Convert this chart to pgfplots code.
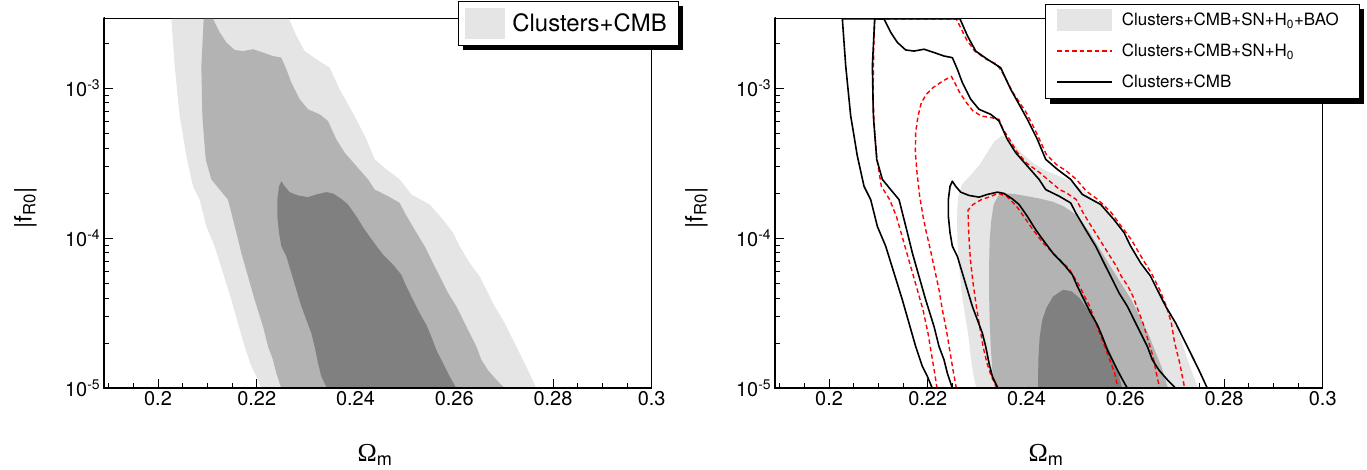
\documentclass[border=0pt]{standalone}
\usepackage{fontspec}
\setmainfont{TeX Gyre Heros}
\newfontfamily\greekfont{Liberation Serif}
\usepackage{pgfplots}
\usepackage{pgfplotstable}
\pgfplotsset{compat=1.18}

\definecolor{lev3}{RGB}{229,229,229}
\definecolor{lev2}{RGB}{179,179,179}
\definecolor{lev1}{RGB}{128,128,128}
\definecolor{snred}{RGB}{255,0,0}

% Clusters+CMB confidence contours (x = Omega_m, y = |f_R0|)
\pgfplotstableread{
x y
0.22093 1.00e-5
0.21992 1.20e-5
0.21890 1.40e-5
0.21755 1.90e-5
0.21620 2.72e-5
0.21485 3.89e-5
0.21317 5.86e-5
0.21148 8.85e-5
0.20979 1.20e-4
0.20844 1.81e-4
0.20709 2.22e-4
0.20574 3.53e-4
0.20439 6.53e-4
0.20338 1.41e-3
0.20270 2.90e-3
0.22653 2.90e-3
0.22802 2.24e-3
0.22971 1.77e-3
0.23207 1.56e-3
0.23477 1.37e-3
0.23680 9.84e-4
0.24017 6.21e-4
0.24220 4.56e-4
0.24389 3.36e-4
0.24625 2.88e-4
0.24895 2.47e-4
0.25131 1.96e-4
0.25503 1.68e-4
0.25773 1.33e-4
0.25975 1.09e-4
0.26110 8.85e-5
0.26313 6.84e-5
0.26515 5.57e-5
0.26650 4.54e-5
0.26819 3.52e-5
0.27022 2.72e-5
0.27191 2.10e-5
0.27326 1.71e-5
0.27494 1.32e-5
0.27663 1.00e-5
}\cmbthree

\pgfplotstableread{
x y
0.22498 1.00e-5
0.22397 1.26e-5
0.22329 1.55e-5
0.22228 1.90e-5
0.22127 2.58e-5
0.21958 3.89e-5
0.21823 5.57e-5
0.21688 7.98e-5
0.21587 1.09e-4
0.21485 1.48e-4
0.21418 1.81e-4
0.21249 2.11e-4
0.21080 2.47e-4
0.20966 3.36e-4
0.20898 6.53e-4
0.20878 1.41e-3
0.20925 2.90e-3
0.21114 2.90e-3
0.21249 2.36e-3
0.21384 2.02e-3
0.21553 1.80e-3
0.21722 1.77e-3
0.21924 1.82e-3
0.22127 1.73e-3
0.22329 1.64e-3
0.22498 1.60e-3
0.22599 1.34e-3
0.22701 1.09e-3
0.22870 8.45e-4
0.23038 7.24e-4
0.23275 6.70e-4
0.23443 6.05e-4
0.23612 4.56e-4
0.23781 3.72e-4
0.24017 3.03e-4
0.24254 2.47e-4
0.24389 2.11e-4
0.24659 1.91e-4
0.24895 1.72e-4
0.24996 1.48e-4
0.25199 1.14e-4
0.25401 8.85e-5
0.25570 6.84e-5
0.25739 5.30e-5
0.25874 4.32e-5
0.26043 3.52e-5
0.26178 2.86e-5
0.26313 2.33e-5
0.26448 1.90e-5
0.26549 1.55e-5
0.26684 1.32e-5
0.26853 1.14e-5
0.27022 1.00e-5
}\cmbtwo

\pgfplotstableread{
x y
0.23423 1.00e-5
0.23308 1.20e-5
0.23241 1.47e-5
0.23173 1.90e-5
0.23106 2.33e-5
0.23005 2.86e-5
0.22903 3.52e-5
0.22802 4.54e-5
0.22701 5.86e-5
0.22599 7.59e-5
0.22498 8.85e-5
0.22451 1.09e-4
0.22417 1.40e-4
0.22417 1.81e-4
0.22451 2.22e-4
0.22498 2.40e-4
0.22566 2.22e-4
0.22667 2.03e-4
0.22836 1.93e-4
0.23038 1.88e-4
0.23207 1.96e-4
0.23410 2.03e-4
0.23545 1.99e-4
0.23714 1.83e-4
0.23849 1.68e-4
0.24017 1.40e-4
0.24186 1.14e-4
0.24355 9.55e-5
0.24558 7.78e-5
0.24760 6.67e-5
0.24929 5.71e-5
0.25030 4.78e-5
0.25165 3.89e-5
0.25300 3.17e-5
0.25435 2.65e-5
0.25536 2.21e-5
0.25638 1.80e-5
0.25773 1.47e-5
0.25908 1.20e-5
0.26043 1.00e-5
}\cmbone

% Clusters+CMB+SN+H0+BAO
\pgfplotstableread{
x y
0.22984 1.00e-5
0.22917 1.26e-5
0.22863 1.71e-5
0.22816 2.33e-5
0.22748 3.17e-5
0.22687 4.32e-5
0.22633 6.50e-5
0.22599 9.79e-5
0.22593 1.48e-4
0.22620 1.91e-4
0.22694 2.29e-4
0.22849 2.59e-4
0.23052 3.10e-4
0.23221 3.81e-4
0.23356 4.45e-4
0.23491 4.81e-4
0.23592 4.75e-4
0.23727 4.34e-4
0.23896 3.72e-4
0.24132 3.18e-4
0.24402 2.81e-4
0.24672 2.59e-4
0.24908 2.40e-4
0.25077 2.17e-4
0.25280 1.91e-4
0.25516 1.68e-4
0.25685 1.44e-4
0.25888 1.14e-4
0.26090 9.08e-5
0.26293 7.01e-5
0.26495 5.43e-5
0.26698 4.21e-5
0.26867 3.33e-5
0.27036 2.65e-5
0.27137 2.10e-5
0.27238 1.63e-5
0.27339 1.32e-5
0.27474 1.00e-5
}\baothree

\pgfplotstableread{
x y
0.23356 1.00e-5
0.23308 1.32e-5
0.23275 1.90e-5
0.23254 2.86e-5
0.23241 4.32e-5
0.23241 6.50e-5
0.23254 9.79e-5
0.23288 1.33e-4
0.23335 1.68e-4
0.23423 1.91e-4
0.23524 1.99e-4
0.23727 1.98e-4
0.23997 1.91e-4
0.24267 1.84e-4
0.24537 1.75e-4
0.24740 1.64e-4
0.24908 1.51e-4
0.25044 1.40e-4
0.25145 1.26e-4
0.25280 1.09e-4
0.25449 8.85e-5
0.25617 7.19e-5
0.25786 5.86e-5
0.25955 4.78e-5
0.26124 3.89e-5
0.26293 3.01e-5
0.26461 2.33e-5
0.26596 1.80e-5
0.26731 1.40e-5
0.26866 1.00e-5
}\baotwo

\pgfplotstableread{
x y
0.24233 1.00e-5
0.24240 1.55e-5
0.24267 2.21e-5
0.24321 2.86e-5
0.24402 3.43e-5
0.24537 4.09e-5
0.24740 4.54e-5
0.24909 4.43e-5
0.25077 3.99e-5
0.25246 3.33e-5
0.25422 2.72e-5
0.25550 2.21e-5
0.25671 1.80e-5
0.25786 1.47e-5
0.25874 1.20e-5
0.25942 1.00e-5
}\baoone

% Clusters+CMB+SN+H0
\pgfplotstableread{
x y
0.22188 1.00e-5
0.22140 1.26e-5
0.22073 1.71e-5
0.22005 2.33e-5
0.21904 3.33e-5
0.21769 4.78e-5
0.21634 6.84e-5
0.21499 9.79e-5
0.21364 1.40e-4
0.21229 1.81e-4
0.21060 2.22e-4
0.20972 3.36e-4
0.20925 5.06e-4
0.20891 8.45e-4
0.20905 1.82e-3
0.20925 2.90e-3
0.22579 2.90e-3
0.22680 2.48e-3
0.22782 2.12e-3
0.22950 1.77e-3
0.23187 1.56e-3
0.23389 1.45e-3
0.23491 1.31e-3
0.23727 9.35e-4
0.23997 6.87e-4
0.24200 5.06e-4
0.24402 3.62e-4
0.24605 3.10e-4
0.24807 2.81e-4
0.25010 2.47e-4
0.25212 2.06e-4
0.25449 1.81e-4
0.25550 1.68e-4
0.25719 1.48e-4
0.25921 1.20e-4
0.26124 9.79e-5
0.26360 7.19e-5
0.26529 5.86e-5
0.26698 4.54e-5
0.26833 3.52e-5
0.26934 2.72e-5
0.27002 2.00e-5
0.27103 1.47e-5
0.27170 1.14e-5
0.27204 1.00e-5
}\snthree

\pgfplotstableread{
x y
0.22579 1.00e-5
0.22512 1.32e-5
0.22444 1.80e-5
0.22377 2.45e-5
0.22296 3.33e-5
0.22228 4.54e-5
0.22140 6.18e-5
0.22053 8.39e-5
0.21972 1.09e-4
0.21904 1.40e-4
0.21836 1.91e-4
0.21782 2.74e-4
0.21749 3.72e-4
0.21755 5.06e-4
0.21803 6.53e-4
0.21870 8.02e-4
0.21972 9.12e-4
0.22107 1.01e-3
0.22309 1.12e-3
0.22478 1.20e-3
0.22545 1.09e-3
0.22647 9.35e-4
0.22782 8.02e-4
0.22917 7.06e-4
0.23086 6.53e-4
0.23288 6.37e-4
0.23443 6.21e-4
0.23524 5.32e-4
0.23659 4.56e-4
0.23794 3.81e-4
0.23997 3.18e-4
0.24267 2.74e-4
0.24470 2.40e-4
0.24672 2.11e-4
0.24807 2.01e-4
0.25010 1.81e-4
0.25145 1.48e-4
0.25314 1.20e-4
0.25483 9.79e-5
0.25651 7.98e-5
0.25820 6.50e-5
0.25921 5.57e-5
0.26056 4.78e-5
0.26158 4.09e-5
0.26259 3.33e-5
0.26360 2.72e-5
0.26461 2.10e-5
0.26563 1.63e-5
0.26630 1.26e-5
0.26698 1.00e-5
}\sntwo

\pgfplotstableread{
x y
0.23403 1.00e-5
0.23288 1.20e-5
0.23200 1.47e-5
0.23120 1.90e-5
0.23052 2.58e-5
0.22984 3.52e-5
0.22917 5.04e-5
0.22863 7.19e-5
0.22829 1.09e-4
0.22815 1.54e-4
0.22917 1.68e-4
0.23086 1.81e-4
0.23254 1.89e-4
0.23423 1.99e-4
0.23592 1.91e-4
0.23795 1.64e-4
0.23963 1.37e-4
0.24132 1.14e-4
0.24335 9.31e-5
0.24537 7.98e-5
0.24740 6.84e-5
0.24875 6.18e-5
0.24976 5.43e-5
0.25077 4.78e-5
0.25179 4.09e-5
0.25280 3.52e-5
0.25381 2.86e-5
0.25482 2.33e-5
0.25584 1.90e-5
0.25685 1.55e-5
0.25786 1.26e-5
0.25854 1.00e-5
}\snone

% Frame, ticks and labels shared by both panels
\pgfplotsset{every axis/.append style={
    scale only axis, width=548bp, height=370.3bp,
    xmin=0.189, xmax=0.3,
    ymode=log, ymin=1e-5, ymax=2.94e-3,
    xtick={0.2,0.22,0.24,0.26,0.28,0.3},
    xticklabels={0.2,0.22,0.24,0.26,0.28,0.3},
    minor xtick={0.19,0.195,0.205,0.21,0.215,0.225,0.23,0.235,0.245,0.25,0.255,0.265,0.27,0.275,0.285,0.29,0.295},
    ytick={1e-5,1e-4,1e-3},
    yticklabels={10\textsuperscript{-5},10\textsuperscript{-4},10\textsuperscript{-3}},
    minor ytick={2e-5,3e-5,4e-5,5e-5,6e-5,7e-5,8e-5,9e-5,2e-4,3e-4,4e-4,5e-4,6e-4,7e-4,8e-4,9e-4,2e-3},
    xtick pos=left, ytick pos=left,
    major tick length=9bp, minor tick length=5bp,
    tick style={black, line width=0.9bp},
    axis line style={line width=0.8bp},
    ticklabel style={font=\fontsize{20}{24}\selectfont},
    xlabel={{\greekfont Ω}\textsubscript{m}},
    xlabel style={font=\fontsize{26}{30}\selectfont, at={(axis description cs:0.495,-0.18)}, anchor=center},
    ylabel={|f\textsubscript{R0}|},
    ylabel style={font=\fontsize{24}{28}\selectfont, at={(axis description cs:-0.143,0.487)}, anchor=center},
    legend cell align=left,
  }
}

\begin{document}
\begin{tikzpicture}[x=1bp,y=1bp]
\useasboundingbox (0,0) rectangle (1367,470);

% Clusters+CMB alone
\begin{axis}[at={(103.7bp,81.7bp)}, anchor=south west,
  legend style={name=legL, at={(1.048,1.046)}, anchor=north east, draw=none,
    fill=white, inner xsep=7bp, inner ysep=6.5bp,
    /tikz/every odd column/.append style={column sep=3bp},
    nodes={inner xsep=4bp, inner ysep=0bp, font=\fontsize{24}{28}\selectfont}},
]
\addplot[fill=lev3, draw=none, area legend,
  legend image code/.code={\fill[fill=lev3, draw=none] (0bp,-15.5bp) rectangle (40bp,15.5bp);}]
  table {\cmbthree} -- cycle;
\addlegendentry{Clusters+CMB}
\addplot[fill=lev2, draw=none, forget plot] table {\cmbtwo} -- cycle;
\addplot[fill=lev1, draw=none, forget plot] table {\cmbone} -- cycle;
\draw[line width=2.2bp, line cap=rect] (rel axis cs:0,1) -- (rel axis cs:0,0) -- (rel axis cs:1,0);
\end{axis}
% legend frame and shadow
\draw[line width=0.8bp] (legL.south west) rectangle (legL.north east);
\fill[black] (legL.north east) ++(0bp,-5bp) rectangle ([xshift=5bp,yshift=-5bp]legL.south east);
\fill[black] ([xshift=5bp]legL.south west) rectangle ([xshift=5bp,yshift=-5bp]legL.south east);

% Comparison with SN, H0 and BAO
\begin{axis}[at={(774.7bp,81.7bp)}, anchor=south west,
  legend style={name=legR, at={(0.4932,1.0378)}, anchor=north west, draw=none,
    fill=white, inner xsep=11bp, inner ysep=0.6bp,
    nodes={inner xsep=9bp, inner ysep=0bp, minimum height=31bp, font=\fontsize{17}{20}\selectfont}},
]
\addplot[fill=lev3, draw=none, area legend,
  legend image code/.code={\fill[fill=lev3, draw=none] (0bp,-11bp) rectangle (55bp,11bp);}]
  table {\baothree} -- cycle;
\addlegendentry{Clusters+CMB+SN+H\textsubscript{0}+BAO}
\addplot[fill=lev2, draw=none, forget plot] table {\baotwo} -- cycle;
\addplot[fill=lev1, draw=none, forget plot] table {\baoone} -- cycle;

\addplot[snred, line width=1.4bp, dash pattern=on 4.5bp off 3bp, line join=round,
  legend image code/.code={%
    \pgfsetstrokecolor{snred}\pgfsetlinewidth{1.6bp}\pgfsetdash{{4.5bp}{3bp}}{0bp}%
    \pgfpathmoveto{\pgfpoint{0bp}{0bp}}\pgfpathlineto{\pgfpoint{55bp}{0bp}}\pgfusepath{stroke}}]
  table {\snthree};
\addlegendentry{Clusters+CMB+SN+H\textsubscript{0}}
\addplot[snred, line width=1.4bp, dash pattern=on 4.5bp off 3bp, line join=round, forget plot] table {\sntwo};
\addplot[snred, line width=1.4bp, dash pattern=on 4.5bp off 3bp, line join=round, forget plot] table {\snone};

\addplot[black, line width=1.6bp, line join=round,
  legend image code/.code={\draw[draw=black, line width=1.8bp] (0bp,0bp) -- (55bp,0bp);}]
  table {\cmbthree};
\addlegendentry{Clusters+CMB}
\addplot[black, line width=1.6bp, line join=round, forget plot] table {\cmbtwo};
\addplot[black, line width=1.6bp, line join=round, forget plot] table {\cmbone};
\draw[line width=2.2bp, line cap=rect] (rel axis cs:0,1) -- (rel axis cs:0,0) -- (rel axis cs:1,0);
\end{axis}
% legend frame and shadow
\draw[line width=0.8bp] (legR.south west) rectangle (legR.north east);
\fill[black] (legR.north east) ++(0bp,-5bp) rectangle ([xshift=5bp,yshift=-5bp]legR.south east);
\fill[black] ([xshift=5bp]legR.south west) rectangle ([xshift=5bp,yshift=-5bp]legR.south east);
\end{tikzpicture}
\end{document}
